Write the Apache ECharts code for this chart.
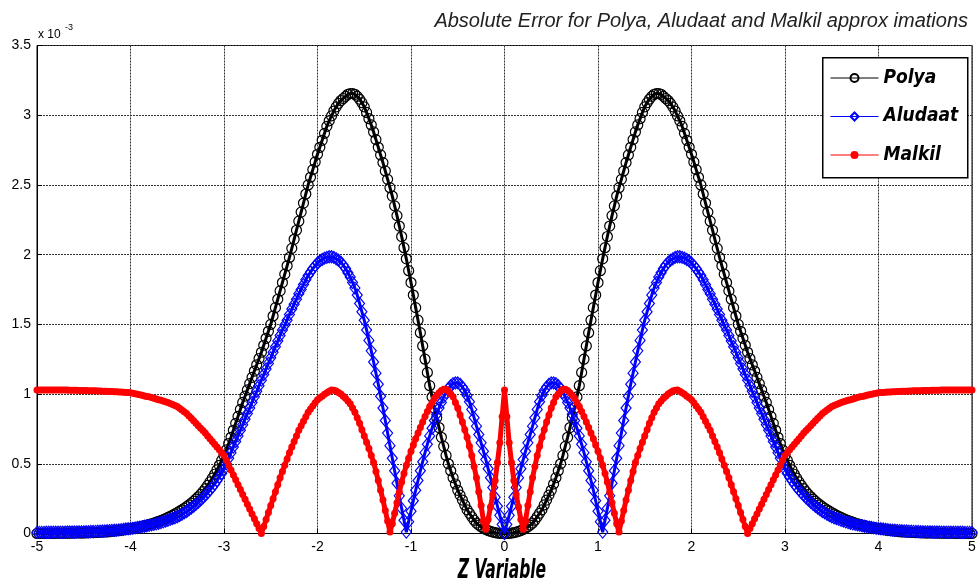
<!DOCTYPE html>
<html>
<head>
<meta charset="utf-8">
<script src="https://cdn.jsdelivr.net/npm/echarts@6/dist/echarts.min.js"></script>
<style>
  html, body { margin: 0; padding: 0; background: #fff; }
  #chart { width: 979px; height: 587px; }
</style>
</head>
<body>
<div id="chart"></div>
<script>
// Sample positions of the Z variable
const zValues = [
  -5,-4.975,-4.95,-4.925,-4.9,-4.875,-4.85,-4.825,-4.8,-4.775,
  -4.75,-4.725,-4.7,-4.675,-4.65,-4.625,-4.6,-4.575,-4.55,-4.525,
  -4.5,-4.475,-4.45,-4.425,-4.4,-4.375,-4.35,-4.325,-4.3,-4.275,
  -4.25,-4.225,-4.2,-4.175,-4.15,-4.125,-4.1,-4.075,-4.05,-4.025,
  -4,-3.975,-3.95,-3.925,-3.9,-3.875,-3.85,-3.825,-3.8,-3.775,
  -3.75,-3.725,-3.7,-3.675,-3.65,-3.625,-3.6,-3.575,-3.55,-3.525,
  -3.5,-3.475,-3.45,-3.425,-3.4,-3.375,-3.35,-3.325,-3.3,-3.275,
  -3.25,-3.225,-3.2,-3.175,-3.15,-3.125,-3.1,-3.075,-3.05,-3.025,
  -3,-2.975,-2.95,-2.925,-2.9,-2.875,-2.85,-2.825,-2.8,-2.775,
  -2.75,-2.725,-2.7,-2.675,-2.65,-2.625,-2.6,-2.575,-2.55,-2.525,
  -2.5,-2.475,-2.45,-2.425,-2.4,-2.375,-2.35,-2.325,-2.3,-2.275,
  -2.25,-2.225,-2.2,-2.175,-2.15,-2.125,-2.1,-2.075,-2.05,-2.025,
  -2,-1.975,-1.95,-1.925,-1.9,-1.875,-1.85,-1.825,-1.8,-1.775,
  -1.75,-1.725,-1.7,-1.675,-1.65,-1.625,-1.6,-1.575,-1.55,-1.525,
  -1.5,-1.475,-1.45,-1.425,-1.4,-1.375,-1.35,-1.325,-1.3,-1.275,
  -1.25,-1.225,-1.2,-1.175,-1.15,-1.125,-1.1,-1.075,-1.05,-1.025,
  -1,-0.975,-0.95,-0.925,-0.9,-0.875,-0.85,-0.825,-0.8,-0.775,
  -0.75,-0.725,-0.7,-0.675,-0.65,-0.625,-0.6,-0.575,-0.55,-0.525,
  -0.5,-0.475,-0.45,-0.425,-0.4,-0.375,-0.35,-0.325,-0.3,-0.275,
  -0.25,-0.225,-0.2,-0.175,-0.15,-0.125,-0.1,-0.075,-0.05,-0.025,
  0,
  0.025,0.05,0.075,0.1,0.125,0.15,0.175,0.2,0.225,0.25,
  0.275,0.3,0.325,0.35,0.375,0.4,0.425,0.45,0.475,0.5,
  0.525,0.55,0.575,0.6,0.625,0.65,0.675,0.7,0.725,0.75,
  0.775,0.8,0.825,0.85,0.875,0.9,0.925,0.95,0.975,1,
  1.025,1.05,1.075,1.1,1.125,1.15,1.175,1.2,1.225,1.25,
  1.275,1.3,1.325,1.35,1.375,1.4,1.425,1.45,1.475,1.5,
  1.525,1.55,1.575,1.6,1.625,1.65,1.675,1.7,1.725,1.75,
  1.775,1.8,1.825,1.85,1.875,1.9,1.925,1.95,1.975,2,
  2.025,2.05,2.075,2.1,2.125,2.15,2.175,2.2,2.225,2.25,
  2.275,2.3,2.325,2.35,2.375,2.4,2.425,2.45,2.475,2.5,
  2.525,2.55,2.575,2.6,2.625,2.65,2.675,2.7,2.725,2.75,
  2.775,2.8,2.825,2.85,2.875,2.9,2.925,2.95,2.975,3,
  3.025,3.05,3.075,3.1,3.125,3.15,3.175,3.2,3.225,3.25,
  3.275,3.3,3.325,3.35,3.375,3.4,3.425,3.45,3.475,3.5,
  3.525,3.55,3.575,3.6,3.625,3.65,3.675,3.7,3.725,3.75,
  3.775,3.8,3.825,3.85,3.875,3.9,3.925,3.95,3.975,4,
  4.025,4.05,4.075,4.1,4.125,4.15,4.175,4.2,4.225,4.25,
  4.275,4.3,4.325,4.35,4.375,4.4,4.425,4.45,4.475,4.5,
  4.525,4.55,4.575,4.6,4.625,4.65,4.675,4.7,4.725,4.75,
  4.775,4.8,4.825,4.85,4.875,4.9,4.925,4.95,4.975,5
];

// Absolute error of each approximation, in units of 1e-3
const polyaErr = [
  0,0,0,0.001,0.001,0.001,0.001,0.001,0.002,0.002,
  0.002,0.002,0.002,0.003,0.003,0.003,0.003,0.004,0.004,0.004,
  0.004,0.005,0.005,0.006,0.006,0.007,0.008,0.009,0.01,0.011,
  0.012,0.013,0.015,0.017,0.019,0.021,0.023,0.026,0.029,0.032,
  0.035,0.038,0.041,0.044,0.048,0.052,0.056,0.06,0.065,0.07,
  0.075,0.081,0.087,0.093,0.1,0.107,0.115,0.123,0.132,0.141,
  0.15,0.16,0.17,0.181,0.193,0.205,0.218,0.232,0.247,0.263,
  0.28,0.3,0.322,0.345,0.37,0.397,0.425,0.456,0.489,0.524,
  0.56,0.6,0.645,0.69,0.74,0.79,0.84,0.89,0.94,0.985,
  1.03,1.075,1.12,1.165,1.21,1.255,1.3,1.35,1.4,1.45,
  1.5,1.56,1.62,1.68,1.74,1.8,1.86,1.92,1.98,2.045,
  2.11,2.175,2.24,2.305,2.37,2.435,2.5,2.555,2.61,2.665,
  2.72,2.77,2.82,2.87,2.92,2.96,2.995,3.03,3.06,3.085,
  3.105,3.12,3.135,3.15,3.155,3.155,3.15,3.135,3.115,3.09,
  3.06,3.02,2.975,2.93,2.88,2.825,2.77,2.715,2.66,2.6,
  2.54,2.48,2.42,2.35,2.28,2.205,2.13,2.05,1.97,1.885,
  1.8,1.71,1.62,1.53,1.44,1.345,1.25,1.155,1.06,0.98,
  0.9,0.83,0.76,0.69,0.625,0.56,0.5,0.45,0.4,0.355,
  0.31,0.275,0.24,0.205,0.17,0.145,0.12,0.095,0.075,0.06,
  0.048,0.038,0.029,0.021,0.015,0.01,0.006,0.003,0.001,0,
  0,
  0,0.001,0.003,0.006,0.01,0.015,0.021,0.029,0.038,0.048,
  0.06,0.075,0.095,0.12,0.145,0.17,0.205,0.24,0.275,0.31,
  0.355,0.4,0.45,0.5,0.56,0.625,0.69,0.76,0.83,0.9,
  0.98,1.06,1.155,1.25,1.345,1.44,1.53,1.62,1.71,1.8,
  1.885,1.97,2.05,2.13,2.205,2.28,2.35,2.42,2.48,2.54,
  2.6,2.66,2.715,2.77,2.825,2.88,2.93,2.975,3.02,3.06,
  3.09,3.115,3.135,3.15,3.155,3.155,3.15,3.135,3.12,3.105,
  3.085,3.06,3.03,2.995,2.96,2.92,2.87,2.82,2.77,2.72,
  2.665,2.61,2.555,2.5,2.435,2.37,2.305,2.24,2.175,2.11,
  2.045,1.98,1.92,1.86,1.8,1.74,1.68,1.62,1.56,1.5,
  1.45,1.4,1.35,1.3,1.255,1.21,1.165,1.12,1.075,1.03,
  0.985,0.94,0.89,0.84,0.79,0.74,0.69,0.645,0.6,0.56,
  0.524,0.489,0.456,0.425,0.397,0.37,0.345,0.322,0.3,0.28,
  0.263,0.247,0.232,0.218,0.205,0.193,0.181,0.17,0.16,0.15,
  0.141,0.132,0.123,0.115,0.107,0.1,0.093,0.087,0.081,0.075,
  0.07,0.065,0.06,0.056,0.052,0.048,0.044,0.041,0.038,0.035,
  0.032,0.029,0.026,0.023,0.021,0.019,0.017,0.015,0.013,0.012,
  0.011,0.01,0.009,0.008,0.007,0.006,0.006,0.005,0.005,0.004,
  0.004,0.004,0.004,0.003,0.003,0.003,0.003,0.002,0.002,0.002,
  0.002,0.002,0.001,0.001,0.001,0.001,0.001,0,0,0
];

const aludaatErr = [
  0.008,0.008,0.008,0.008,0.009,0.009,0.009,0.009,0.009,0.01,
  0.01,0.01,0.01,0.011,0.011,0.011,0.011,0.012,0.012,0.012,
  0.012,0.013,0.013,0.014,0.014,0.015,0.016,0.017,0.018,0.019,
  0.02,0.021,0.022,0.023,0.024,0.026,0.028,0.03,0.032,0.034,
  0.035,0.037,0.04,0.043,0.046,0.049,0.052,0.055,0.058,0.062,
  0.065,0.069,0.073,0.078,0.083,0.089,0.095,0.101,0.107,0.113,
  0.12,0.129,0.138,0.148,0.158,0.17,0.182,0.195,0.209,0.224,
  0.24,0.256,0.273,0.292,0.311,0.332,0.354,0.378,0.404,0.431,
  0.46,0.5,0.54,0.58,0.62,0.66,0.7,0.74,0.78,0.82,
  0.86,0.9,0.94,0.98,1.02,1.06,1.1,1.14,1.18,1.22,
  1.26,1.3,1.34,1.38,1.42,1.46,1.495,1.53,1.57,1.61,
  1.645,1.68,1.72,1.75,1.785,1.82,1.85,1.875,1.9,1.92,
  1.94,1.955,1.965,1.975,1.98,1.985,1.985,1.98,1.97,1.96,
  1.945,1.925,1.9,1.87,1.84,1.8,1.76,1.71,1.65,1.59,
  1.53,1.46,1.385,1.31,1.23,1.15,1.07,0.985,0.9,0.81,
  0.72,0.63,0.54,0.45,0.36,0.27,0.18,0.095,0.01,0.085,
  0.16,0.235,0.31,0.38,0.45,0.515,0.58,0.64,0.7,0.755,
  0.81,0.855,0.9,0.94,0.98,1.01,1.04,1.06,1.075,1.08,
  1.08,1.07,1.05,1.025,0.99,0.945,0.89,0.83,0.77,0.71,
  0.65,0.59,0.53,0.465,0.4,0.33,0.26,0.195,0.13,0.065,
  0,
  0.065,0.13,0.195,0.26,0.33,0.4,0.465,0.53,0.59,0.65,
  0.71,0.77,0.83,0.89,0.945,0.99,1.025,1.05,1.07,1.08,
  1.08,1.075,1.06,1.04,1.01,0.98,0.94,0.9,0.855,0.81,
  0.755,0.7,0.64,0.58,0.515,0.45,0.38,0.31,0.235,0.16,
  0.085,0.01,0.095,0.18,0.27,0.36,0.45,0.54,0.63,0.72,
  0.81,0.9,0.985,1.07,1.15,1.23,1.31,1.385,1.46,1.53,
  1.59,1.65,1.71,1.76,1.8,1.84,1.87,1.9,1.925,1.945,
  1.96,1.97,1.98,1.985,1.985,1.98,1.975,1.965,1.955,1.94,
  1.92,1.9,1.875,1.85,1.82,1.785,1.75,1.72,1.68,1.645,
  1.61,1.57,1.53,1.495,1.46,1.42,1.38,1.34,1.3,1.26,
  1.22,1.18,1.14,1.1,1.06,1.02,0.98,0.94,0.9,0.86,
  0.82,0.78,0.74,0.7,0.66,0.62,0.58,0.54,0.5,0.46,
  0.431,0.404,0.378,0.354,0.332,0.311,0.292,0.273,0.256,0.24,
  0.224,0.209,0.195,0.182,0.17,0.158,0.148,0.138,0.129,0.12,
  0.113,0.107,0.101,0.095,0.089,0.083,0.078,0.073,0.069,0.065,
  0.062,0.058,0.055,0.052,0.049,0.046,0.043,0.04,0.037,0.035,
  0.034,0.032,0.03,0.028,0.026,0.024,0.023,0.022,0.021,0.02,
  0.019,0.018,0.017,0.016,0.015,0.014,0.014,0.013,0.013,0.012,
  0.012,0.012,0.011,0.011,0.011,0.011,0.01,0.01,0.01,0.01,
  0.01,0.009,0.009,0.009,0.009,0.009,0.008,0.008,0.008,0.008
];

const malkilErr = [
  1.03,1.03,1.03,1.03,1.03,1.03,1.03,1.03,1.03,1.03,
  1.03,1.03,1.029,1.029,1.028,1.028,1.027,1.027,1.026,1.026,
  1.025,1.025,1.024,1.024,1.023,1.023,1.022,1.022,1.021,1.021,
  1.02,1.019,1.018,1.017,1.016,1.015,1.014,1.013,1.012,1.011,
  1.01,1.006,1.003,0.999,0.995,0.991,0.987,0.983,0.98,0.975,
  0.97,0.965,0.96,0.955,0.95,0.945,0.94,0.933,0.925,0.918,
  0.91,0.898,0.886,0.873,0.86,0.843,0.826,0.808,0.79,0.773,
  0.755,0.738,0.72,0.7,0.68,0.66,0.64,0.62,0.6,0.58,
  0.56,0.525,0.49,0.455,0.42,0.385,0.35,0.315,0.28,0.245,
  0.21,0.175,0.14,0.105,0.07,0.035,0,0.05,0.1,0.15,
  0.2,0.25,0.3,0.35,0.4,0.445,0.49,0.535,0.58,0.62,
  0.66,0.7,0.74,0.773,0.805,0.838,0.87,0.893,0.915,0.938,
  0.96,0.973,0.985,0.998,1.01,1.02,1.03,1.028,1.022,1.012,
  1,0.985,0.97,0.95,0.93,0.9,0.87,0.83,0.79,0.745,
  0.7,0.655,0.61,0.56,0.51,0.445,0.38,0.31,0.24,0.165,
  0.09,0.01,0.07,0.145,0.22,0.295,0.37,0.43,0.49,0.54,
  0.59,0.635,0.68,0.72,0.76,0.8,0.84,0.875,0.91,0.94,
  0.97,0.99,1.01,1.025,1.035,1.035,1.02,1,0.98,0.94,
  0.9,0.85,0.8,0.745,0.69,0.625,0.56,0.48,0.4,0.3,
  0.2,0.09,0.03,0.1,0.19,0.28,0.38,0.51,0.65,0.84,
  1.03,
  0.84,0.65,0.51,0.38,0.28,0.19,0.1,0.03,0.09,0.2,
  0.3,0.4,0.48,0.56,0.625,0.69,0.745,0.8,0.85,0.9,
  0.94,0.98,1,1.02,1.035,1.035,1.025,1.01,0.99,0.97,
  0.94,0.91,0.875,0.84,0.8,0.76,0.72,0.68,0.635,0.59,
  0.54,0.49,0.43,0.37,0.295,0.22,0.145,0.07,0.01,0.09,
  0.165,0.24,0.31,0.38,0.445,0.51,0.56,0.61,0.655,0.7,
  0.745,0.79,0.83,0.87,0.9,0.93,0.95,0.97,0.985,1,
  1.012,1.022,1.028,1.03,1.02,1.01,0.998,0.985,0.973,0.96,
  0.938,0.915,0.893,0.87,0.838,0.805,0.773,0.74,0.7,0.66,
  0.62,0.58,0.535,0.49,0.445,0.4,0.35,0.3,0.25,0.2,
  0.15,0.1,0.05,0,0.035,0.07,0.105,0.14,0.175,0.21,
  0.245,0.28,0.315,0.35,0.385,0.42,0.455,0.49,0.525,0.56,
  0.58,0.6,0.62,0.64,0.66,0.68,0.7,0.72,0.738,0.755,
  0.773,0.79,0.808,0.826,0.843,0.86,0.873,0.886,0.898,0.91,
  0.918,0.925,0.933,0.94,0.945,0.95,0.955,0.96,0.965,0.97,
  0.975,0.98,0.983,0.987,0.991,0.995,0.999,1.003,1.006,1.01,
  1.011,1.012,1.013,1.014,1.015,1.016,1.017,1.018,1.019,1.02,
  1.021,1.021,1.022,1.022,1.023,1.023,1.024,1.024,1.025,1.025,
  1.026,1.026,1.027,1.027,1.028,1.028,1.029,1.029,1.03,1.03,
  1.03,1.03,1.03,1.03,1.03,1.03,1.03,1.03,1.03,1.03
];

const seriesNames = ['Polya', 'Aludaat', 'Malkil'];

const narrowFont = "'Liberation Sans Narrow', 'DejaVu Sans Condensed', sans-serif";
const plainFont = "'Liberation Sans', Arial, sans-serif";

function pairs(values) {
  return zValues.map((z, i) => [z, values[i]]);
}

const chart = echarts.init(document.getElementById('chart'), null, { renderer: 'canvas' });

chart.setOption({
  animation: false,
  backgroundColor: '#fff',
  title: {
    text: 'Absolute Error for Polya, Aludaat and Malkil approx imations',
    right: 6,
    top: 6,
    textStyle: {
      fontFamily: plainFont,
      fontStyle: 'italic',
      fontWeight: 'normal',
      fontSize: 20,
      color: '#222'
    }
  },
  grid: {
    left: 37,
    right: 7,
    top: 45.5,
    bottom: 53.5,
    show: true,
    borderColor: '#000',
    borderWidth: 1,
    backgroundColor: 'transparent'
  },
  legend: {
    orient: 'vertical',
    left: 822,
    top: 57,
    padding: [9, 0, 0, 8],
    itemGap: 14.5,
    itemWidth: 48,
    itemHeight: 10,
    z: 6,
    data: seriesNames,
    lineStyle: { width: 1 },
    textStyle: {
      fontFamily: narrowFont,
      fontWeight: 'bold',
      fontStyle: 'italic',
      fontSize: 19,
      lineHeight: 24,
      color: '#000'
    }
  },
  xAxis: {
    type: 'value',
    min: -5,
    max: 5,
    interval: 1,
    axisLine: { show: true, onZero: false, lineStyle: { color: '#000', width: 1 } },
    axisTick: { show: true, inside: true, length: 5, lineStyle: { color: '#000' } },
    axisLabel: { margin: 7, fontFamily: plainFont, fontSize: 14, color: '#000' },
    splitLine: { show: true, lineStyle: { color: '#333', width: 1, type: [2, 1] } }
  },
  yAxis: {
    type: 'value',
    min: 0,
    max: 3.5,
    interval: 0.5,
    axisLine: { show: true, onZero: false, lineStyle: { color: '#000', width: 1 } },
    axisTick: { show: true, inside: true, length: 5, lineStyle: { color: '#000' } },
    axisLabel: { margin: 6, fontFamily: plainFont, fontSize: 14, color: '#000' },
    splitLine: { show: true, lineStyle: { color: '#333', width: 1, type: [2, 1] } }
  },
  graphic: [
    {
      type: 'rect',
      left: 822,
      top: 57,
      z: 5,
      shape: { width: 145, height: 120 },
      style: { fill: '#fff', stroke: '#000', lineWidth: 1.5 }
    },
    {
      type: 'text',
      left: 38,
      top: 29,
      z: 5,
      style: { text: 'x 10', font: '12px ' + plainFont, fill: '#000' }
    },
    {
      type: 'text',
      left: 65,
      top: 23,
      z: 5,
      style: { text: '-3', font: '9px ' + plainFont, fill: '#000' }
    },
    {
      // x-axis title, set in a tall condensed face
      type: 'text',
      x: 502,
      y: 571,
      scaleX: 0.64,
      z: 5,
      style: {
        text: 'Z Variable',
        textAlign: 'center',
        textVerticalAlign: 'middle',
        font: 'italic bold 27px ' + narrowFont,
        fill: '#000'
      }
    }
  ],
  series: [
    {
      name: seriesNames[0],
      type: 'line',
      data: pairs(polyaErr),
      symbol: 'circle',
      symbolSize: 10,
      showAllSymbol: true,
      itemStyle: { color: 'rgba(255,255,255,0)', borderColor: '#000', borderWidth: 1.2 },
      lineStyle: { color: '#000', width: 3 },
      emphasis: { disabled: true },
      z: 2
    },
    {
      name: seriesNames[1],
      type: 'line',
      data: pairs(aludaatErr),
      symbol: 'diamond',
      symbolSize: [10, 12],
      showAllSymbol: true,
      itemStyle: { color: 'rgba(255,255,255,0)', borderColor: '#0000ff', borderWidth: 1.2 },
      lineStyle: { color: '#0000ff', width: 3 },
      emphasis: { disabled: true },
      z: 3
    },
    {
      name: seriesNames[2],
      type: 'line',
      data: pairs(malkilErr),
      symbol: 'circle',
      symbolSize: 7,
      showAllSymbol: true,
      itemStyle: { color: '#ff0000', borderColor: '#ff0000', borderWidth: 0 },
      lineStyle: { color: '#ff0000', width: 5 },
      emphasis: { disabled: true },
      z: 4
    }
  ]
});
</script>
</body>
</html>
